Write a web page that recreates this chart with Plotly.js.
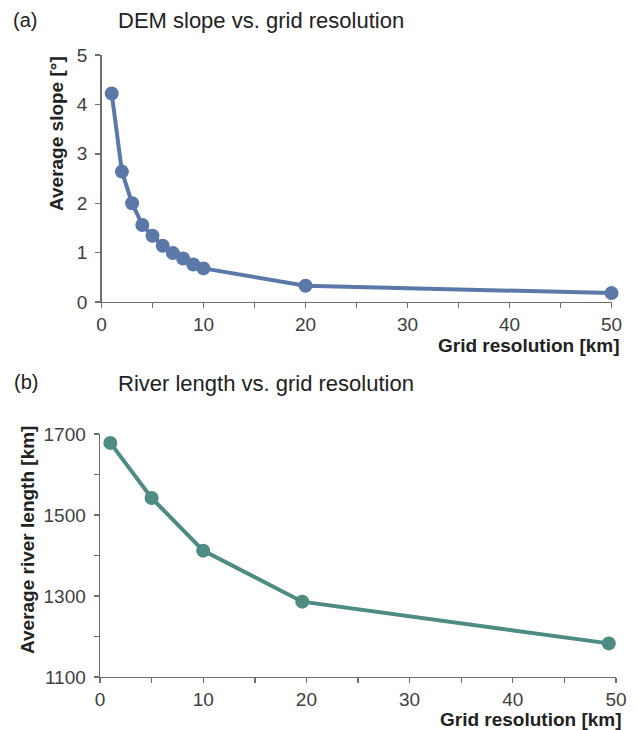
<!DOCTYPE html>
<html>
<head>
<meta charset="utf-8">
<script src="https://cdn.plot.ly/plotly-3.0.1.min.js"></script>
<style>
  html, body { margin: 0; padding: 0; background: #fff; }
  #chart { width: 636px; height: 730px; }
</style>
</head>
<body>
<div id="chart"></div>
<script>
// Panel (a): DEM slope vs. grid resolution
const slopeResolution = [1, 2, 3, 4, 5, 6, 7, 8, 9, 10, 20, 50];
const slopeValues = [4.22, 2.64, 2.00, 1.56, 1.34, 1.14, 0.99, 0.88, 0.76, 0.68, 0.33, 0.18];

// Panel (b): River length vs. grid resolution
const riverResolution = [1, 5, 10, 19.6, 49.3];
const riverValues = [1678, 1542, 1412, 1286, 1183];

// Tick values
const xTicks = [0, 10, 20, 30, 40, 50];
const slopeTicks = [0, 1, 2, 3, 4, 5];
const riverTicks = [1100, 1300, 1500, 1700];

const W = 636, H = 730;
const px = v => v / W;
const py = v => 1 - v / H;

const FONT = '"Liberation Sans", Arial, Helvetica, sans-serif';
const axisColor = '#6e6e6e';
const tickFont = { family: FONT, size: 19, color: '#404040' };

function axisBase(extra) {
  return Object.assign({
    showline: true,
    linecolor: axisColor,
    linewidth: 1.4,
    ticks: 'outside',
    ticklen: 5,
    tickwidth: 1.4,
    tickcolor: axisColor,
    showgrid: false,
    zeroline: false,
    tickfont: tickFont,
    fixedrange: true
  }, extra);
}

const traceA = {
  x: slopeResolution,
  y: slopeValues,
  type: 'scatter',
  mode: 'lines+markers',
  xaxis: 'x',
  yaxis: 'y',
  line: { color: '#5b79a8', width: 4 },
  marker: { color: '#5b79a8', size: 14 },
  cliponaxis: false,
  hoverinfo: 'skip'
};

const traceB = {
  x: riverResolution,
  y: riverValues,
  type: 'scatter',
  mode: 'lines+markers',
  xaxis: 'x2',
  yaxis: 'y2',
  line: { color: '#4d8b83', width: 4 },
  marker: { color: '#4d8b83', size: 14 },
  cliponaxis: false,
  hoverinfo: 'skip'
};

const minorX = { dtick: 5, tick0: 0, ticks: 'outside', ticklen: 5, tickwidth: 1.4, tickcolor: axisColor };

const layout = {
  width: W,
  height: H,
  margin: { l: 0, r: 0, t: 0, b: 0 },
  paper_bgcolor: '#ffffff',
  plot_bgcolor: '#ffffff',
  showlegend: false,
  xaxis: axisBase({
    domain: [px(101.5), px(611.5)],
    range: [0, 50],
    tickvals: xTicks,
    ticktext: xTicks.map(String),
    minor: minorX,
    anchor: 'y'
  }),
  yaxis: axisBase({
    domain: [py(302), py(55)],
    range: [0, 5],
    tickvals: slopeTicks,
    ticktext: slopeTicks.map(String),
    ticklabelstandoff: 4,
    anchor: 'x'
  }),
  xaxis2: axisBase({
    domain: [px(100), px(616)],
    range: [0, 50],
    tickvals: xTicks,
    ticktext: xTicks.map(String),
    minor: minorX,
    anchor: 'y2'
  }),
  yaxis2: axisBase({
    domain: [py(677), py(434)],
    range: [1100, 1700],
    tickvals: riverTicks,
    ticktext: riverTicks.map(String),
    ticklabelstandoff: 4,
    minor: { dtick: 100, tick0: 1100, ticks: 'outside', ticklen: 5, tickwidth: 1.4, tickcolor: axisColor },
    anchor: 'x2'
  }),
  annotations: [
    { text: '(a)', xref: 'paper', yref: 'paper', x: px(11), y: py(20), xanchor: 'left', yanchor: 'middle', showarrow: false, font: { family: FONT, size: 20, color: '#222' } },
    { text: 'DEM slope vs. grid resolution', xref: 'paper', yref: 'paper', x: px(116), y: py(20), xanchor: 'left', yanchor: 'middle', showarrow: false, font: { family: FONT, size: 22, color: '#222' } },
    { text: '<b>Average slope [°]</b>', xref: 'paper', yref: 'paper', x: px(57), y: py(133), xanchor: 'center', yanchor: 'middle', textangle: -90, showarrow: false, font: { family: FONT, size: 19, color: '#222' } },
    { text: '<b>Grid resolution [km]</b>', xref: 'paper', yref: 'paper', x: px(622), y: py(346), xanchor: 'right', yanchor: 'middle', showarrow: false, font: { family: FONT, size: 19, color: '#222' } },
    { text: '(b)', xref: 'paper', yref: 'paper', x: px(12), y: py(382), xanchor: 'left', yanchor: 'middle', showarrow: false, font: { family: FONT, size: 20, color: '#222' } },
    { text: 'River length vs. grid resolution', xref: 'paper', yref: 'paper', x: px(116), y: py(384), xanchor: 'left', yanchor: 'middle', showarrow: false, font: { family: FONT, size: 22, color: '#222' } },
    { text: '<b>Average river length [km]</b>', xref: 'paper', yref: 'paper', x: px(27), y: py(540), xanchor: 'center', yanchor: 'middle', textangle: -90, showarrow: false, font: { family: FONT, size: 19, color: '#222' } },
    { text: '<b>Grid resolution [km]</b>', xref: 'paper', yref: 'paper', x: px(624), y: py(719), xanchor: 'right', yanchor: 'middle', showarrow: false, font: { family: FONT, size: 19, color: '#222' } }
  ]
};

Plotly.newPlot('chart', [traceA, traceB], layout, { displayModeBar: false, staticPlot: true });
</script>
</body>
</html>
